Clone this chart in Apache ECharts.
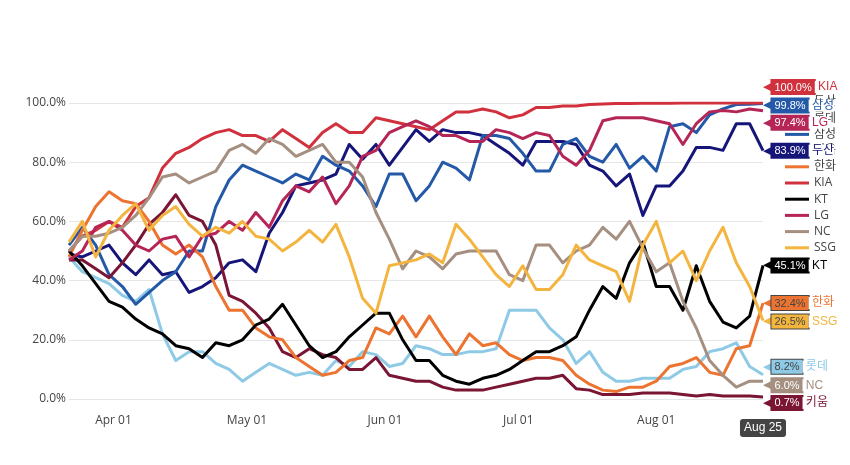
<!DOCTYPE html>
<html>
<head>
<meta charset="utf-8">
<script src="https://cdn.jsdelivr.net/npm/echarts@6/dist/echarts.min.js"></script>
<style>
html,body{margin:0;padding:0;background:#fff;}
#chart{width:850px;height:465px;}
</style>
</head>
<body>
<div id="chart"></div>
<script>
// ---- data ----
const dates = ['2024-03-22','2024-03-25','2024-03-28','2024-03-31','2024-04-03','2024-04-06','2024-04-09','2024-04-12','2024-04-15','2024-04-18','2024-04-21','2024-04-24','2024-04-27','2024-04-30','2024-05-03','2024-05-06','2024-05-09','2024-05-12','2024-05-15','2024-05-18','2024-05-21','2024-05-24','2024-05-27','2024-05-30','2024-06-02','2024-06-05','2024-06-08','2024-06-11','2024-06-14','2024-06-17','2024-06-20','2024-06-23','2024-06-26','2024-06-29','2024-07-02','2024-07-05','2024-07-08','2024-07-11','2024-07-14','2024-07-17','2024-07-20','2024-07-23','2024-07-26','2024-07-29','2024-08-01','2024-08-04','2024-08-07','2024-08-10','2024-08-13','2024-08-16','2024-08-19','2024-08-22','2024-08-25'];

const tickDates = ['2024-04-01','2024-05-01','2024-06-01','2024-07-01','2024-08-01'];
const tickLabels = ['Apr 01','May 01','Jun 01','Jul 01','Aug 01'];
const hoverDateLabel = 'Aug 25';

const teams = ['두산','롯데','삼성','키움','한화','KIA','KT','LG','NC','SSG'];

const doosan = [49,48,50,52,46,42,47,42,43,36,38,41,46,47,43,56,63,72,73,74,76,86,81,86,79,85,91,87,91,90,90,89,86,83,79,87,87,87,86,79,77,72,76,62,72,72,77,85,85,84,93,93,83.9];
const lotte = [48,43,41,39,35,33,37,22,13,16,16,12,10,6,9,12,10,8,9,8,13,11,16,15,11,12,18,17,15,15,16,16,17,30,30,30,24,20,12,16,9,6,6,7,7,7,10,11,16,17,19,11,8.2];
const samsung = [52,58,52,42,38,32,36,40,43,50,50,65,74,79,77,75,73,76,74,82,79,77,72,65,76,76,67,72,80,78,74,89,89,88,83,77,77,86,88,82,80,86,78,82,77,92,93,90,96,98,99.5,99.6,99.8];
const kiwoom = [47,47,44,41,46,52,59,63,69,62,60,52,35,33,29,24,16,14,17,15,14,10,10,14,8,7,6,6,4,3,3,3,4,5,6,7,7,8,3.5,3,1.5,1.5,1.5,2,2,2,1.5,1,1.5,1,1,1,0.7];
const hanwha = [48,57,65,70,67,66,60,52,49,52,48,38,30,30,24,21,20,14,11,8,9,13,14,24,22,28,21,28,21,15,22,18,19,15,13,14,14,13,8,5,3,2.5,4,4,6,11,12,14,9,8,17,18,32.4];
const kia = [50,55,57,60,58,65,68,78,83,85,88,90,91,89,89,87,91,88,85,90,93,90,90,95,94,93,92,91,94,97,97,98,97,95,96,98.5,98.5,99,99,99.5,99.7,99.8,99.8,99.9,99.9,99.9,100,100,100,100,100,100,100];
const kt = [50,45,39,33,31,27,24,22,18,17,14,19,18,20,25,27,32,25,18,14,16,21,25,29,29,20,13,13,8,6,5,7,8,10,13,16,16,18,21,30,38,34,46,53,38,38,30,45,33,26,24,28,45.1];
const lg = [47,50,58,60,57,52,50,54,55,48,55,56,60,57,63,58,67,72,70,75,66,72,82,84,90,92,94,92,89,89,87,87,91,90,88,90,89,82,79,84,94,95,95,95,94,93,86,93,97,97.5,97,98,97.4];
const nc = [50,55,55,56,58,62,68,75,76,73,75,77,84,86,83,88,86,82,84,86,80,80,75,63,54,44,50,48,44,49,50,50,50,42,40,52,52,46,50,52,58,54,60,51,43,46,33,24,13,8,4,6,6.0];
const ssg = [53,60,48,57,62,66,57,62,65,59,55,58,56,60,55,54,50,53,57,53,59,48,34,29,45,46,47,49,46,59,54,48,42,38,45,37,37,42,52,47,45,43,33,52,60,46,50,40,50,58,46,38,26.5];

const seriesValues = [doosan, lotte, samsung, kiwoom, hanwha, kia, kt, lg, nc, ssg];

// ---- styles (not data) ----
const colors = ['#16167a','#8ecae6','#2459a8','#7a1534','#ec7430','#d1313d','#000000','#b52656','#a48f80','#f3b53f'];
const hoverTextColors = ['#fff','#444','#fff','#fff','#444','#fff','#fff','#fff','#fff','#444'];
const labelShiftY = [0,-8,2,6,0,-16,0,12,4,1];

function toTime(s){ const p = s.split('-').map(Number); return new Date(p[0], p[1]-1, p[2]).getTime(); }
const tickTimes = tickDates.map(toTime);

const baseFont = "'Open Sans', 'Noto Sans CJK KR', Verdana, sans-serif";
const hoverFont = "'Liberation Sans', Arial, 'Noto Sans CJK KR', sans-serif";
// thin line legend icon (invisible moves keep the 24x14 box so the bar stays 3px tall)
const lineIcon = 'path://M0,0 M0,5.5 L24,5.5 L24,8.5 L0,8.5 Z M24,14';

const series = teams.map((name, i) => {
  const vals = seriesValues[i];
  const last = vals[vals.length - 1];
  return {
    name: name,
    type: 'line',
    symbol: 'none',
    zlevel: 1,
    data: dates.map((d, j) => [toTime(d), vals[j]]),
    lineStyle: { width: 3, color: colors[i], join: 'round' },
    itemStyle: { color: colors[i] },
    endLabel: {
      show: true,
      distance: 0,
      offset: [0, labelShiftY[i]],
      formatter: () => '{arr|◀}{box|' + last.toFixed(1) + '%}{nm| ' + name + '}',
      rich: {
        arr: { color: colors[i], fontSize: 11, fontFamily: 'DejaVu Sans' },
        box: { backgroundColor: colors[i], color: hoverTextColors[i], fontSize: 11, fontFamily: hoverFont,
               padding: [2, 3, 1, 3], borderColor: hoverTextColors[i] === '#444' ? '#444' : colors[i], borderWidth: 1 },
        nm: { color: colors[i], fontSize: 12, fontFamily: hoverFont, backgroundColor: '#fff' }
      }
    }
  };
});

const chart = echarts.init(document.getElementById('chart'), null, { renderer: 'canvas' });
chart.setOption({
  animation: false,
  backgroundColor: '#fff',
  color: colors,
  grid: { left: 69, right: 87, top: 103, bottom: 66, containLabel: false },
  axisPointer: { triggerOn: 'none' },
  legend: {
    orient: 'vertical',
    left: 780,
    top: 90,
    icon: lineIcon,
    itemWidth: 24,
    itemHeight: 14,
    itemGap: 2.2,
    data: teams,
    textStyle: { color: '#444', fontSize: 12, fontFamily: baseFont }
  },
  xAxis: {
    type: 'value',
    min: toTime(dates[0]),
    max: toTime(dates[dates.length - 1]),
    axisLine: { show: false },
    axisTick: { show: false },
    splitLine: { show: false },
    axisLabel: {
      customValues: tickTimes,
      color: '#444',
      fontSize: 12,
      fontFamily: baseFont,
      margin: 16,
      formatter: (v) => { const idx = tickTimes.indexOf(v); return idx >= 0 ? tickLabels[idx] : ''; }
    },
    axisPointer: {
      show: true,
      status: 'show',
      value: toTime(dates[dates.length - 1]),
      type: 'line',
      lineStyle: { opacity: 0 },
      triggerTooltip: false,
      label: {
        show: true,
        formatter: () => hoverDateLabel,
        backgroundColor: '#444',
        color: '#fff',
        fontFamily: hoverFont,
        fontSize: 12,
        padding: [3, 4, 3, 4],
        margin: 20,
        borderColor: '#fff',
        borderWidth: 1
      }
    }
  },
  yAxis: {
    type: 'value',
    min: 0,
    max: 100,
    interval: 20,
    axisLine: { show: false },
    axisTick: { show: false },
    splitLine: { lineStyle: { color: '#e6e6e6', width: 1 } },
    axisLabel: {
      color: '#444',
      fontSize: 12,
      fontFamily: baseFont,
      margin: 3,
      formatter: (v) => v.toFixed(1) + '%'
    }
  },
  series: series
});
</script>
</body>
</html>
